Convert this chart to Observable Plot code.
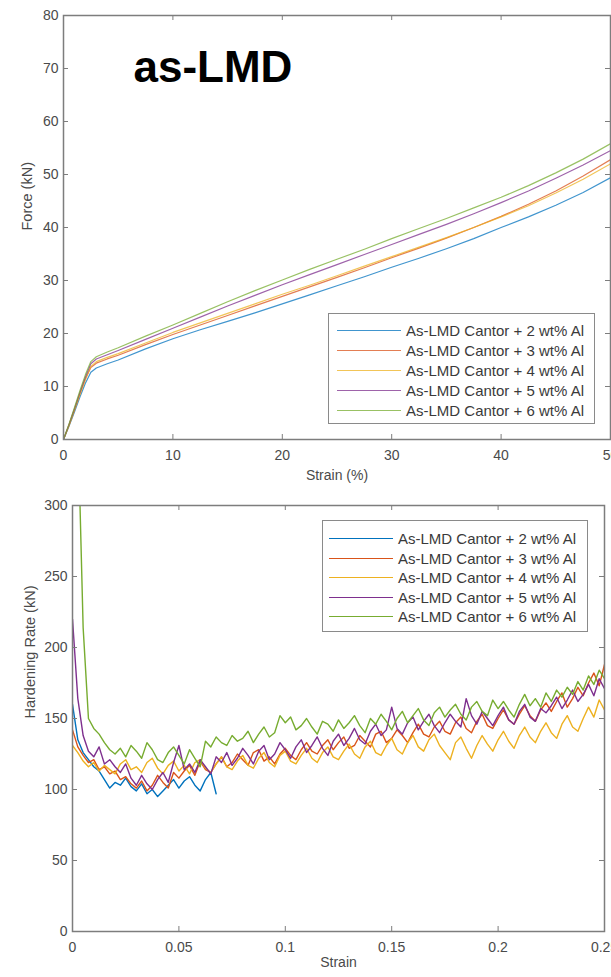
<!DOCTYPE html>
<html><head><meta charset="utf-8">
<script src="https://cdn.jsdelivr.net/npm/d3@7"></script>
<script src="https://cdn.jsdelivr.net/npm/@observablehq/plot@0.6"></script>
<style>
html,body{margin:0;padding:0;background:#fff;overflow:hidden;width:611px;height:977px}
#wrap{position:relative;width:611px;height:977px;overflow:hidden;font-family:"Liberation Sans",Arial,sans-serif}
.panel{position:absolute;left:0}
.legend{position:absolute;background:#fff;border:1.5px solid #8a8a8a;box-sizing:border-box}
.legend .sw{position:absolute;height:0;border-top:1.3px solid}
.legend .lbl{position:absolute;font-size:15px;color:#3a3a3a;white-space:nowrap;line-height:15px;transform:translateY(-50%)}
</style></head><body><div id="wrap"></div>
<script>
// ---------- shared ----------
const seriesNames = [
  "As-LMD Cantor + 2 wt% Al",
  "As-LMD Cantor + 3 wt% Al",
  "As-LMD Cantor + 4 wt% Al",
  "As-LMD Cantor + 5 wt% Al",
  "As-LMD Cantor + 6 wt% Al"
];
const seriesColors = ["#0072BD", "#D95319", "#EDB120", "#7E2F8E", "#77AC30"];

// ---------- top panel: force vs strain (%) ----------
const strainPct = [0,0.5,1,1.5,2,2.5,3,4,5,7.5,10,12.5,15,17.5,20,22.5,25,27.5,30,32.5,35,37.5,40,42.5,45,47.5,50];
const force2 = [0,2.5,5.2,8,10.6,12.7,13.5,14.3,15.0,17.1,19.0,20.7,22.3,23.9,25.6,27.3,29.0,30.7,32.5,34.2,36.0,37.9,40.0,42.0,44.2,46.6,49.4];
const force3 = [0,2.7,5.6,8.6,11.4,13.6,14.4,15.2,15.9,17.9,19.8,21.6,23.4,25.2,27.0,28.8,30.6,32.4,34.3,36.1,38.0,40.0,42.1,44.4,46.9,49.7,52.8];
const force4 = [0,2.6,5.5,8.5,11.3,13.8,14.7,15.5,16.2,18.2,20.2,22.0,23.8,25.6,27.4,29.1,30.9,32.7,34.5,36.3,38.1,40.0,42.0,44.1,46.5,49.1,52.0];
const force5 = [0,2.8,5.8,8.9,11.8,14.3,15.2,16.0,16.8,18.9,21.0,23.1,25.2,27.2,29.2,31.1,33.0,34.9,36.8,38.7,40.6,42.6,44.7,46.9,49.3,51.8,54.5];
const force6 = [0,2.9,6.0,9.2,12.2,14.7,15.6,16.5,17.3,19.5,21.6,23.8,26.0,28.1,30.1,32.1,34.0,35.9,37.9,39.8,41.7,43.7,45.7,47.9,50.3,52.9,55.8];
const forceXTicks = [0,10,20,30,40,50];
const forceYTicks = [0,10,20,30,40,50,60,70,80];

// ---------- bottom panel: hardening rate vs strain ----------
const hrStrainStep = 0.0025; // sampling interval of the hardening-rate curves
const hr2 = [
  160,135,126,121,116,113,107,101,105,103,
  108,102,99,104,97,100,95,99,103,107,
  101,106,109,103,99,107,112,97
];
const hr3 = [
  142,130,124,119,121,114,116,111,113,107,
  109,104,101,106,99,103,110,105,101,112,
  108,113,117,110,120,114,112,118,123,116,
  119,125,121,117,126,128,120,123,118,125,
  129,124,121,128,133,127,125,131,135,128,
  133,137,129,131,138,134,130,139,141,133,
  136,142,138,133,140,146,139,137,144,148,
  141,139,147,151,143,140,148,153,145,143,
  150,156,149,146,153,159,152,148,156,161,
  155,162,168,158,164,172,166,175,182,173,
  188
];
const hr4 = [
  131,126,120,116,119,113,117,114,111,118,
  121,114,116,112,119,122,115,111,117,120,
  113,117,111,119,121,115,112,118,123,116,
  114,120,124,117,115,122,126,119,116,124,
  127,120,118,124,129,122,119,126,130,123,
  121,127,132,125,122,130,134,126,124,131,
  136,128,125,133,138,130,127,135,139,131,
  126,121,133,137,129,122,131,138,132,127,
  135,141,134,129,138,144,137,133,141,147,
  140,136,146,152,144,141,150,158,151,163,
  156
];
const hr5 = [
  220,164,138,127,123,130,118,121,116,112,
  118,108,103,110,104,100,107,112,105,119,
  131,114,118,112,121,116,111,123,119,126,
  117,122,129,124,118,127,131,121,125,133,
  128,122,130,135,126,131,137,129,124,134,
  139,131,136,143,135,132,141,146,138,142,
  158,143,139,147,151,142,148,153,145,140,
  147,153,148,144,164,152,146,155,150,145,
  152,158,149,146,155,160,151,148,157,154,
  159,165,157,163,170,162,167,174,166,178,
  171
];
const hr6 = [
  null,360,214,150,143,139,133,128,125,129,
  123,131,127,122,133,128,121,119,126,130,
  124,118,128,122,116,134,130,137,133,131,
  138,134,136,141,133,139,144,137,140,152,
  147,151,142,145,150,144,139,148,146,141,
  149,143,147,152,145,140,150,146,153,148,
  142,150,155,147,152,157,149,145,154,158,
  151,156,160,153,149,158,162,155,152,163,
  157,162,156,151,160,167,159,164,158,168,
  162,170,165,172,167,176,170,180,174,184,
  178
];
const hrXTicks = [0,0.05,0.1,0.15,0.2,0.25];
const hrYTicks = [0,50,100,150,200,250,300];

// ---------- build tables ----------
const forceSeries = [force2, force3, force4, force5, force6];
const forceRows = [];
forceSeries.forEach((vals, s) => vals.forEach((v, i) => forceRows.push({series: seriesNames[s], x: strainPct[i], y: v})));
const hrSeries = [hr2, hr3, hr4, hr5, hr6];
const hrRows = [];
hrSeries.forEach((vals, s) => vals.forEach((v, i) => { if (v != null) hrRows.push({series: seriesNames[s], x: i * hrStrainStep, y: v}); }));

const FRAME = "#7d7d7d";
const TEXT = "#4a4a4a";
const FONT = '"Liberation Sans", Arial, sans-serif';

function panel(o) {
  const innerW = o.width - o.ml - o.mr;
  const innerH = o.height - o.mt - o.mb;
  const tk = 5;
  return Plot.plot({
    width: o.width, height: o.height,
    marginLeft: o.ml, marginRight: o.mr, marginTop: o.mt, marginBottom: o.mb,
    style: {fontFamily: FONT, color: TEXT, background: "transparent", overflow: "visible"},
    x: {domain: o.xDomain, label: null},
    y: {domain: o.yDomain, label: null},
    color: {domain: seriesNames, range: seriesColors},
    marks: [
      Plot.line(o.rows, {x: "x", y: "y", z: "series", stroke: "series", strokeWidth: o.sw, strokeOpacity: o.op, clip: true}),
      Plot.tickX(o.xTicks, {x: d => d, insetTop: innerH - tk, stroke: FRAME, strokeWidth: 1}),
      Plot.tickX(o.xTicks, {x: d => d, insetBottom: innerH - tk, stroke: FRAME, strokeWidth: 1}),
      Plot.tickY(o.yTicks, {y: d => d, insetRight: innerW - tk, stroke: FRAME, strokeWidth: 1}),
      Plot.tickY(o.yTicks, {y: d => d, insetLeft: innerW - tk, stroke: FRAME, strokeWidth: 1}),
      Plot.frame({stroke: FRAME, strokeWidth: 1.5}),
      Plot.axisX({ticks: o.xTicks, tickSize: 0, tickPadding: 11, tickFormat: d => String(d), fontSize: 14, label: null}),
      Plot.axisY({ticks: o.yTicks, tickSize: 0, tickPadding: 5, tickFormat: d => String(d), fontSize: 14, label: null}),
      Plot.text([o.xLabel], {text: d => d, frameAnchor: "bottom", dy: o.xLabelDy, fontSize: 14, fill: TEXT}),
      Plot.text([o.yLabel], {text: d => d, frameAnchor: "left", rotate: -90, dx: o.yLabelDx, dy: o.yLabelDy || 0, fontSize: 14.5, fill: TEXT}),
      ...(o.title ? [Plot.text([o.title], {text: d => d, frameAnchor: "top-left", textAnchor: "start", lineAnchor: "top", dx: 70, dy: 35, fontSize: 44, fontWeight: "bold", fill: "#000", letterSpacing: "3px"})] : [])
    ]
  });
}

function legend(box) {
  const div = document.createElement("div");
  div.className = "legend";
  Object.assign(div.style, {left: box.left + "px", top: box.top + "px", width: box.w + "px", height: box.h + "px"});
  seriesNames.forEach((name, i) => {
    const cy = box.first + i * box.step;
    const sw = document.createElement("div");
    sw.className = "sw";
    Object.assign(sw.style, {left: box.lx0 + "px", width: (box.lx1 - box.lx0) + "px", top: cy + "px", borderTopColor: seriesColors[i], opacity: box.op});
    const lb = document.createElement("div");
    lb.className = "lbl";
    lb.textContent = name;
    Object.assign(lb.style, {left: box.tx + "px", top: cy + "px"});
    div.appendChild(sw); div.appendChild(lb);
  });
  return div;
}

const wrap = document.getElementById("wrap");

const top1 = panel({
  rows: forceRows, width: 611, height: 495, ml: 63, mr: 1, mt: 15, mb: 56,
  xDomain: [0, 50], yDomain: [0, 80], xTicks: forceXTicks, yTicks: forceYTicks,
  xLabel: "Strain (%)", xLabelDy: 40, yLabel: "Force (kN)", yLabelDx: -36, yLabelDy: 3,
  title: "as-LMD", sw: 1.2, op: 0.75
});
const d1 = document.createElement("div");
d1.className = "panel"; d1.style.top = "0px";
d1.appendChild(top1);
wrap.appendChild(d1);

const bot = panel({
  rows: hrRows, width: 611, height: 482, ml: 72, mr: 7, mt: 10, mb: 46,
  xDomain: [0, 0.25], yDomain: [0, 300], xTicks: hrXTicks, yTicks: hrYTicks,
  xLabel: "Strain", xLabelDy: 35, yLabel: "Hardening Rate (kN)", yLabelDx: -42, yLabelDy: 0,
  sw: 1.4, op: 1
});
const d2 = document.createElement("div");
d2.className = "panel"; d2.style.top = "495px";
d2.appendChild(bot);
wrap.appendChild(d2);

wrap.appendChild(legend({left: 328, top: 313, w: 267, h: 111, first: 16, step: 20, lx0: 8, lx1: 72, tx: 77, op: 0.75}));
wrap.appendChild(legend({left: 322, top: 520, w: 266, h: 112, first: 17, step: 19.5, lx0: 6, lx1: 70, tx: 75, op: 1}));
</script></body></html>
